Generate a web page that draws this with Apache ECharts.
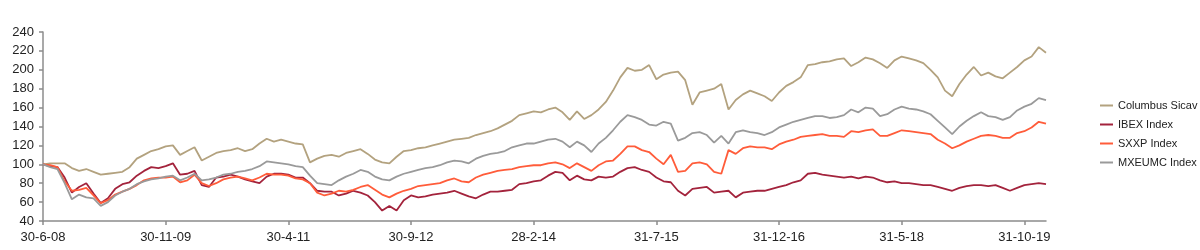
<!DOCTYPE html>
<html>
<head>
<meta charset="utf-8">
<script src="https://cdn.jsdelivr.net/npm/echarts@6/dist/echarts.min.js"></script>
<style>html,body{margin:0;padding:0;background:#fff}#c{width:1200px;height:250px}</style>
</head>
<body>
<div id="c"></div>
<script>
// Monthly observations, June 2008 .. January 2020 (base 100)
const startYear = 2008, startMonth = 6;
const seriesNames = ["Columbus Sicav", "IBEX Index", "SXXP Index", "MXEUMC Index"];
const columbus = [100,101,101,101,96,93,95,92,89,90,91,92,97,106,110,114,116,119,120,110,
114,118,104,108,112,114,115,117,114,116,122,127,124,126,124,122,121,102,106,109,
110,108,112,114,116,111,105,102,101,108,114,115,117,118,120,122,124,126,127,128,
131,133,135,138,142,146,152,154,156,155,158,160,155,147,156,148,152,158,166,178,
192,202,199,200,205,190,195,197,198,189,163,176,178,180,185,158,168,174,178,175,
172,167,176,183,187,192,205,206,208,209,211,212,204,208,213,211,207,202,210,214,
212,210,207,200,192,178,172,185,195,203,194,197,193,191,197,203,210,214,224,218];
const ibex = [100,98,97,86,70,76,80,69,59,64,74,79,81,88,93,97,96,98,101,89,
90,93,78,76,86,87,89,87,84,82,80,87,90,90,89,86,86,80,72,71,
71,67,69,72,70,67,60,51,56,51,62,67,65,66,68,69,70,72,69,66,
64,68,71,71,72,73,79,80,82,83,88,92,91,83,88,84,83,87,86,87,
92,96,97,94,92,86,82,81,72,67,74,75,76,70,71,72,65,70,71,72,
72,74,76,78,81,83,90,91,89,88,87,86,87,85,87,86,83,81,82,80,
80,79,78,78,76,74,72,75,77,78,78,77,78,75,72,75,78,79,80,79];
const sxxp = [100,99,97,82,72,73,75,67,59,62,68,71,74,78,83,85,86,86,87,81,
83,89,80,77,80,84,86,87,85,83,86,90,89,89,88,85,84,80,70,67,
69,72,71,73,76,78,73,68,65,69,72,74,77,78,79,80,83,85,82,81,
86,89,91,93,94,95,97,98,99,99,101,102,100,96,101,97,93,99,103,104,
111,119,119,115,113,106,100,110,92,93,101,102,100,92,90,115,111,117,119,118,
118,116,121,124,126,129,130,131,132,130,130,129,135,134,136,137,130,130,133,136,
135,134,133,132,126,122,117,120,124,127,130,131,130,128,128,133,135,139,145,143];
const mxeumc = [100,97,95,80,63,68,65,64,56,60,67,71,74,79,82,84,85,87,88,83,
86,90,83,84,86,89,90,92,93,95,98,103,102,101,100,98,97,88,80,79,
78,83,87,90,94,92,87,84,83,87,90,92,94,96,97,99,102,104,103,101,
106,109,111,112,114,118,120,122,122,124,126,127,124,118,124,120,113,122,128,136,
145,152,150,147,142,141,145,143,125,128,133,134,131,123,130,122,134,136,134,133,
131,134,139,142,145,147,149,151,151,149,150,152,158,155,160,159,151,153,158,161,
159,158,156,153,146,139,132,140,146,151,155,151,150,147,150,157,161,164,170,168];
const colors = ["#b3a27f", "#a3233c", "#ff5c3a", "#9a9a9a"];
const yMin = 40, yMax = 240, yStep = 20;
const labelEvery = 17;

const categories = [];
for (let i = 0; i < columbus.length; i++) {
  const y = startYear + Math.floor((startMonth - 1 + i) / 12);
  const m = (startMonth - 1 + i) % 12 + 1;
  const d = new Date(y, m, 0).getDate();
  categories.push(d + "-" + m + "-" + String(y % 100).padStart(2, "0"));
}

const chart = echarts.init(document.getElementById("c"), null, {renderer: "canvas"});
const font = "Liberation Sans, Arial, sans-serif";
chart.setOption({
  animation: false,
  color: colors,
  grid: {left: 43, right: 154, top: 32, bottom: 29, containLabel: false},
  legend: {
    orient: "vertical", left: 1095, top: 94,
    itemWidth: 13, itemHeight: 2, itemGap: 6,
    icon: "rect",
    textStyle: {fontFamily: font, fontSize: 11, color: "#222", lineHeight: 13},
    data: seriesNames
  },
  xAxis: {
    type: "category", data: categories, boundaryGap: false,
    axisLine: {lineStyle: {color: "#8c8c8c", width: 1.5}},
    axisTick: {interval: labelEvery - 1, length: 4, lineStyle: {color: "#8c8c8c", width: 1.5}},
    axisLabel: {interval: labelEvery - 1, margin: 10, fontFamily: font, fontSize: 13, color: "#222"},
    splitLine: {show: false}
  },
  yAxis: {
    type: "value", min: yMin, max: yMax, interval: yStep,
    axisLine: {show: true, lineStyle: {color: "#8c8c8c", width: 1.5}},
    axisTick: {show: true, length: 4, lineStyle: {color: "#8c8c8c", width: 1.5}},
    axisLabel: {margin: 9, fontFamily: font, fontSize: 13, color: "#222"},
    splitLine: {show: false}
  },
  series: [columbus, ibex, sxxp, mxeumc].map((d, i) => ({
    name: seriesNames[i], type: "line", data: d, symbol: "none",
    lineStyle: {width: 1.8, color: colors[i]}, itemStyle: {color: colors[i]}
  }))
});
</script>
</body>
</html>
